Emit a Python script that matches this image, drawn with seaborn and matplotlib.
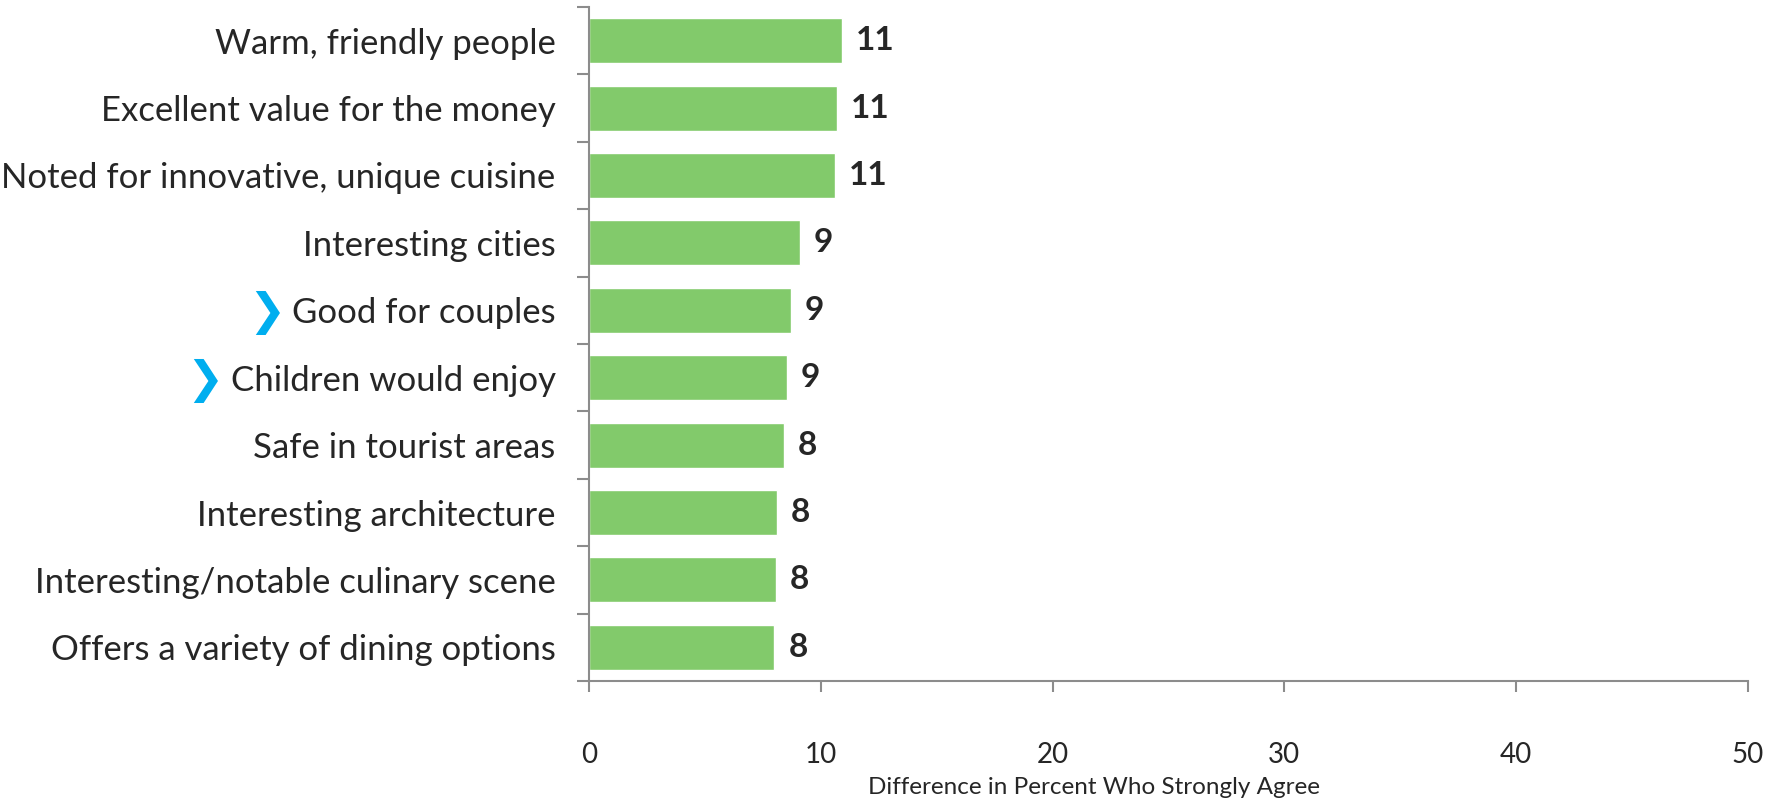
import numpy as np
import pandas as pd
import matplotlib.pyplot as plt
import seaborn as sns

sns.set_style('white')
plt.rcParams['font.family'] = ['Lato', 'DejaVu Sans']

categories = ['Warm, friendly people', 'Excellent value for the money',
              'Noted for innovative, unique cuisine', 'Interesting cities',
              'Good for couples', 'Children would enjoy', 'Safe in tourist areas',
              'Interesting architecture', 'Interesting/notable culinary scene',
              'Offers a variety of dining options']
values = [10.9, 10.7, 10.6, 9.1, 8.7, 8.55, 8.4, 8.1, 8.05, 8.0]
value_labels = ['11', '11', '11', '9', '9', '9', '8', '8', '8', '8']
highlighted = ['Good for couples', 'Children would enjoy']

df = pd.DataFrame({'item': categories, 'diff': values})

fig = plt.figure(figsize=(17.68, 7.98), dpi=100)
ax = fig.add_axes([589 / 1768, 1 - 681 / 798, (1748 - 589) / 1768, (681 - 7) / 798])

sns.barplot(data=df, x='diff', y='item', color='#82CA6B', width=0.67,
            saturation=1, ax=ax, orient='h')

ax.set_xlim(0, 50)
ax.set_ylim(len(categories) - 0.5, -0.5)
ax.set_xticks(range(0, 51, 10))
ax.tick_params(axis='x', length=8, width=1.5, color='#8c8c8c', labelsize=20,
               pad=36, labelcolor='#262626', direction='out', bottom=True)
ax.tick_params(axis='y', which='major', length=0, labelsize=25, pad=24,
               labelcolor='#262626')
ax.set_yticks(np.arange(-0.5, len(categories), 1), minor=True)
ax.tick_params(axis='y', which='minor', length=9, width=1.5, color='#8c8c8c',
               direction='out', left=True)

for s in ['top', 'right']:
    ax.spines[s].set_visible(False)
for s in ['left', 'bottom']:
    ax.spines[s].set_color('#8c8c8c')
    ax.spines[s].set_linewidth(1.5)

ax.set_ylabel('')
ax.set_xlabel('Difference in Percent Who Strongly Agree', fontsize=17.5,
              color='#262626')
ax.xaxis.set_label_coords(0.436, -0.143)

for i, (v, lab) in enumerate(zip(values, value_labels)):
    ax.text(v + 0.6, i, lab, va='center', ha='left', fontsize=24,
            fontweight='bold', color='#262626')

# blue chevrons in front of highlighted items
fig.canvas.draw()
renderer = fig.canvas.get_renderer()
for t in ax.get_yticklabels():
    if t.get_text() in highlighted:
        bb = t.get_window_extent(renderer)
        x0, y0 = fig.transFigure.inverted().transform((bb.x0, (bb.y0 + bb.y1) / 2))
        fig.text(x0 - 0.004, y0, '❯', ha='right', va='center', fontsize=32,
                 fontweight='bold', color='#00AEEF', family='DejaVu Sans')

fig.savefig('out.png', dpi=100)
